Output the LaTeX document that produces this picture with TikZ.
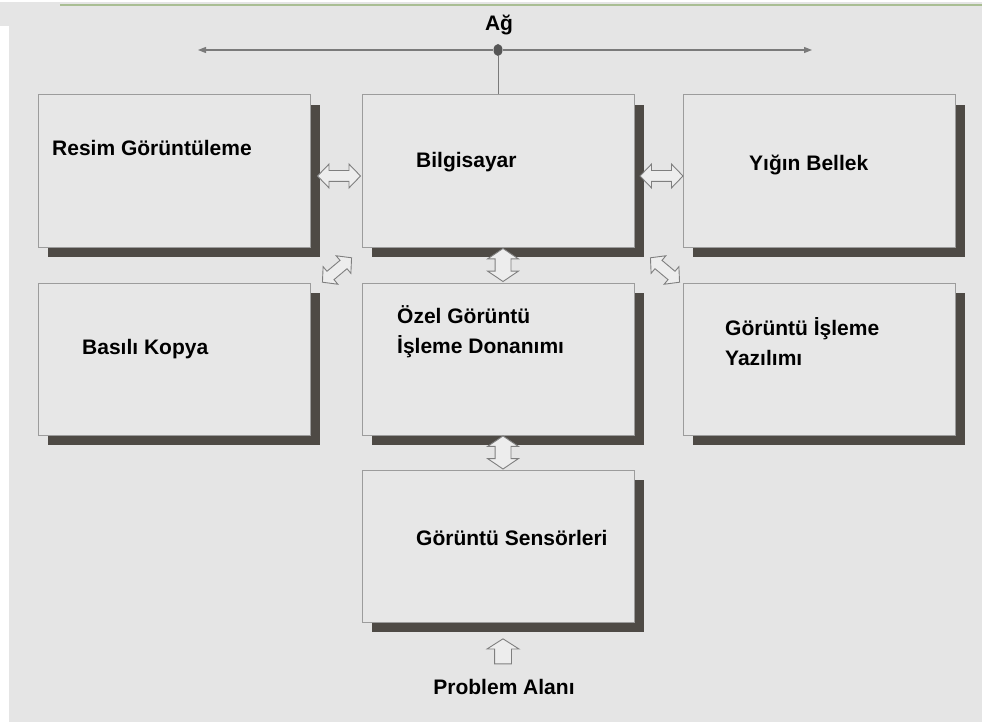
\documentclass[tikz,border=0pt]{standalone}
\usepackage{fontspec}
\setmainfont{Liberation Sans}
\usetikzlibrary{shapes.arrows,shapes.geometric,shadows,arrows.meta,calc}
\definecolor{bg}{HTML}{E5E5E5}
\definecolor{boxfill}{HTML}{E7E7E7}
\definecolor{boxline}{HTML}{9C9C9C}
\definecolor{shade}{HTML}{4E4A45}
\definecolor{arrline}{HTML}{7F7F7F}
\definecolor{arrfill}{HTML}{EDEDED}
\definecolor{netline}{HTML}{7A7A7A}
\definecolor{topgreen}{HTML}{A9BE93}
\begin{document}
\begin{tikzpicture}[x=1pt,y=-1pt,
  blk/.style={draw=boxline,line width=1pt,fill=boxfill,minimum width=272pt,minimum height=152pt,inner sep=0pt,
    drop shadow={shadow xshift=10pt,shadow yshift=-10pt,fill=shade,opacity=1}},
  lbl/.style={font=\fontsize{21}{30}\selectfont\bfseries,text=black,inner sep=0pt,anchor=mid west,align=left},
  harr/.style={double arrow,draw=arrline,fill=arrfill,line width=0.9pt,inner sep=5pt,double arrow head extend=6.5pt,minimum height=43pt,double arrow tip angle=92},
  varr/.style={double arrow,draw=arrline,fill=arrfill,line width=0.9pt,inner sep=7.5pt,double arrow head extend=7.5pt,minimum height=33pt,double arrow tip angle=112,rotate=90},
  darr/.style={double arrow,draw=arrline,fill=arrfill,line width=0.9pt,inner sep=5pt,double arrow head extend=6pt,minimum height=38pt,double arrow tip angle=95},
  sarr/.style={single arrow,draw=arrline,fill=arrfill,line width=0.9pt,inner sep=8pt,single arrow head extend=7.5pt,minimum height=25pt,single arrow tip angle=115,rotate=90},
  net/.style={draw=netline,line width=1.2pt}]
\useasboundingbox (0,0) rectangle (982,722);
\fill[bg] (0,0) rectangle (982,722);
\fill[white] (0,26) rectangle (9,722);
\fill[white] (0,0) rectangle (982,2);
\draw[topgreen,line width=1.5pt] (60,5) -- (982,5);

% boxes
\node[blk] (resim) at (174,171) {};
\node[blk] (bilg) at (498,171) {};
\node[blk] (yigin) at (819,171) {};
\node[blk] (basili) at (174,359) {};
\node[blk] (ozel) at (498,359) {};
\node[blk] (yazilim) at (819,359) {};
\node[blk] (sensor) at (498,546) {};

% labels
\node[lbl] (tresim) at (52,153) {Resim Görüntüleme};
\node[lbl] (tbilg) at (416,165) {Bilgisayar};
\node[lbl] (tyigin) at (749,168) {Yığın Bellek};
\node[lbl] (tbasili) at (82,352) {Basılı Kopya};
\node[lbl] (tozel) at (397,351) {Özel Görüntü\\İşleme Donanımı};
\node[lbl] (tyaz) at (725,363) {Görüntü İşleme\\Yazılımı};
\node[lbl] (tsensor) at (416,543) {Görüntü Sensörleri};
\node[lbl,anchor=mid] (tprob) at (504,692) {Problem Alanı};
\node[lbl,anchor=mid] (tag) at (499,28) {Ağ};

% network
\node[ellipse,fill=netline!70!black,inner sep=0pt,minimum width=9pt,minimum height=12pt] (dot) at (498,50) {};
\coordinate (netL) at (198,50);
\coordinate (netR) at (812,50);
\draw[net,-{Triangle[width=6pt,length=8pt]}] (dot) -- (netL);
\draw[net,-{Triangle[width=6pt,length=8pt]}] (dot) -- (netR);
\draw[net,line width=1pt] (dot) -- (bilg.north);

% block arrows
\node[harr] (a1) at ($(resim.east)!0.5!(bilg.west)+(3,5)$) {};
\node[harr] (a2) at ($(bilg.east)!0.5!(yigin.west)+(3,5)$) {};
\node[varr] (a3) at ($(bilg.south)!0.5!(ozel.north)+(5,0)$) {};
\node[varr] (a4) at ($(ozel.south)!0.5!(sensor.north)+(5,0)$) {};
\node[darr,rotate=40] (a5) at (337,270) {};
\node[darr,rotate=-40] (a6) at (665,270) {};
\node[sarr] (a7) at (503,654) {};
\end{tikzpicture}
\end{document}
